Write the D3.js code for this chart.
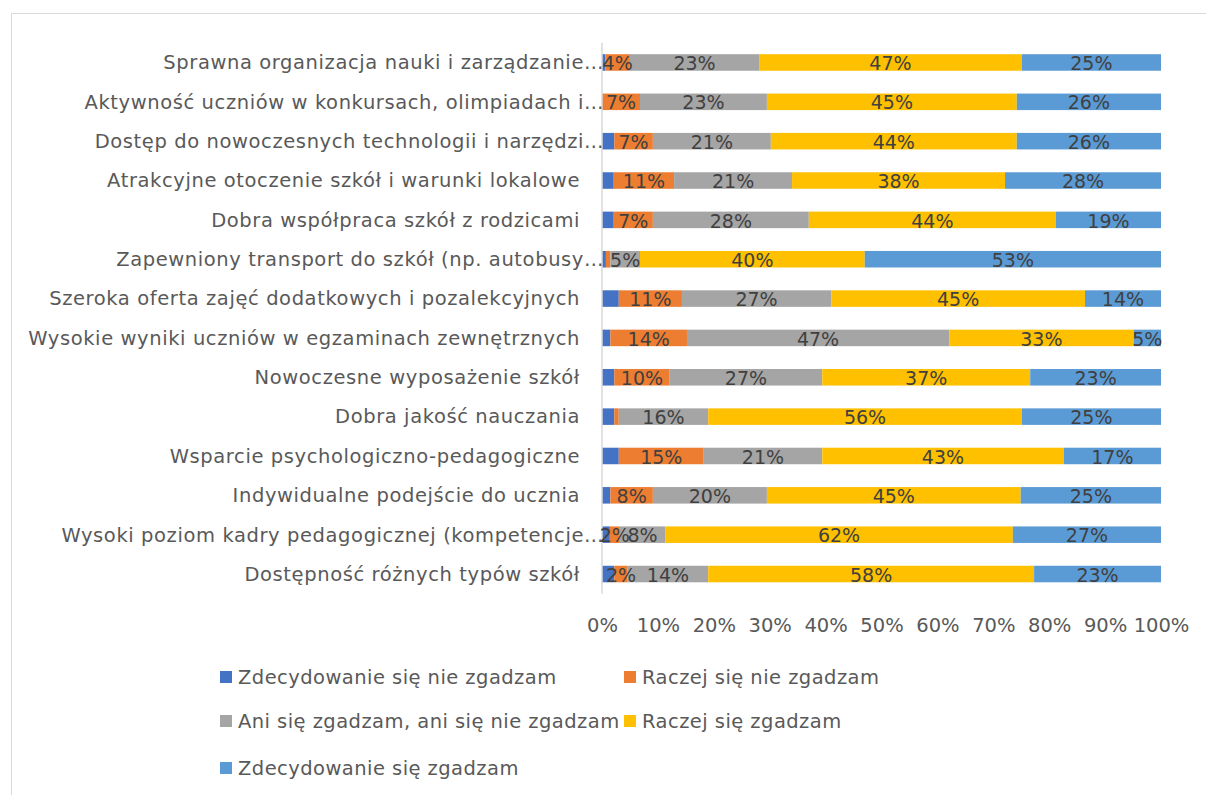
<!DOCTYPE html>
<html>
<head>
<meta charset="utf-8">
<script src="https://cdn.jsdelivr.net/npm/d3@7"></script>
<style>
  html, body { margin: 0; padding: 0; background: #ffffff; }
  svg { display: block; }
  text { font-family: "DejaVu Sans", "Liberation Sans", sans-serif; }
</style>
</head>
<body>
<svg id="chart" width="1206" height="795"></svg>
<script>
const categories = [
  "Sprawna organizacja nauki i zarządzanie…",
  "Aktywność uczniów w konkursach, olimpiadach i…",
  "Dostęp do nowoczesnych technologii i narzędzi…",
  "Atrakcyjne otoczenie szkół i warunki lokalowe",
  "Dobra współpraca szkół z rodzicami",
  "Zapewniony transport do szkół (np. autobusy…",
  "Szeroka oferta zajęć dodatkowych i pozalekcyjnych",
  "Wysokie wyniki uczniów w egzaminach zewnętrznych",
  "Nowoczesne wyposażenie szkół",
  "Dobra jakość nauczania",
  "Wsparcie psychologiczno-pedagogiczne",
  "Indywidualne podejście do ucznia",
  "Wysoki poziom kadry pedagogicznej (kompetencje…",
  "Dostępność różnych typów szkół"
];

const seriesNames = [
  "Zdecydowanie się nie zgadzam",
  "Raczej się nie zgadzam",
  "Ani się zgadzam, ani się nie zgadzam",
  "Raczej się zgadzam",
  "Zdecydowanie się zgadzam"
];

const strongDisagree = [0.6, 0, 2.2, 2.1, 2.1, 0.7, 3.0, 1.5, 2.2, 2.2, 3.0, 1.5, 1.4, 2.2];
const disagree       = [4.4, 6.8, 6.9, 10.8, 7.0, 0.8, 11.3, 13.7, 9.9, 0.8, 15.2, 7.6, 1.8, 2.4];
const neutral        = [23.1, 22.7, 21.1, 21.1, 27.9, 5.3, 26.7, 46.9, 27.3, 16.0, 21.2, 20.4, 8.1, 14.4];
const agree          = [47.0, 44.7, 44.0, 38.1, 44.2, 40.2, 45.4, 33.0, 37.2, 56.1, 43.2, 45.4, 62.2, 58.3];
const strongAgree    = [24.9, 25.8, 25.8, 27.9, 18.8, 53.0, 13.6, 4.9, 23.4, 24.9, 17.4, 25.1, 26.5, 22.7];

const tickValues = [0, 10, 20, 30, 40, 50, 60, 70, 80, 90, 100];
const tickLabels = ["0%", "10%", "20%", "30%", "40%", "50%", "60%", "70%", "80%", "90%", "100%"];

const colors = ["#4472C4", "#ED7D31", "#A5A5A5", "#FFC000", "#5B9BD5"];

const seriesValues = [strongDisagree, disagree, neutral, agree, strongAgree];

const rows = categories.map((c, i) => {
  const r = { cat: c };
  seriesNames.forEach((s, k) => { r[s] = seriesValues[k][i]; });
  return r;
});

const svg = d3.select("#chart");

// chart border
svg.append("rect")
  .attr("x", 11.5).attr("y", 13.5)
  .attr("width", 1400).attr("height", 1000)
  .attr("fill", "none").attr("stroke", "#d9d9d9").attr("stroke-width", 1);

const x = d3.scaleLinear().domain([0, 100]).range([602, 1161]);
const y = d3.scaleBand().domain(categories).range([42.8, 593.7])
  .paddingInner(0.58).paddingOuter(0.29);

const stack = d3.stack().keys(seriesNames);
const stacked = stack(rows);

const layers = svg.append("g").selectAll("g")
  .data(stacked).join("g")
  .attr("fill", (d, i) => colors[i]);

layers.selectAll("rect")
  .data(d => d)
  .join("rect")
  .attr("x", d => x(d[0]))
  .attr("y", d => y(d.data.cat))
  .attr("width", d => Math.max(0, x(d[1]) - x(d[0])))
  .attr("height", y.bandwidth());

// axis line
svg.append("line")
  .attr("x1", x(0)).attr("x2", x(0))
  .attr("y1", y.range()[0]).attr("y2", y.range()[1])
  .attr("stroke", "#d9d9d9").attr("stroke-width", 1.5);

// x tick labels
const xAxis = d3.axisBottom(x).tickValues(tickValues)
  .tickFormat((d, i) => tickLabels[i]).tickSize(0).tickPadding(0);
const gx = svg.append("g").attr("transform", "translate(0,618)").call(xAxis);
gx.select(".domain").remove();
gx.selectAll("text")
  .attr("font-family", "DejaVu Sans, sans-serif")
  .attr("font-size", 19.5)
  .attr("fill", "#595959")
  .attr("dy", "0.35em")
  .attr("y", 7);

// category labels
const catG = svg.append("g");
categories.forEach(c => {
  const cy = y(c) + y.bandwidth() / 2;
  const trunc = c.endsWith("…");
  const main = trunc ? c.slice(0, -1) : c;
  catG.append("text")
    .attr("x", trunc ? 584 : 580)
    .attr("y", cy)
    .attr("dy", "0.35em")
    .attr("text-anchor", "end")
    .attr("font-size", 19.5)
    .attr("letter-spacing", "0.6px")
    .attr("fill", "#595959")
    .text(main);
  if (trunc) {
    catG.append("text")
      .attr("x", 584)
      .attr("y", cy)
      .attr("dy", "0.35em")
      .attr("text-anchor", "start")
      .attr("font-size", 19.5)
      .attr("fill", "#595959")
      .text("…");
  }
});

// data labels
const lab = svg.append("g");
stacked.forEach((layer, k) => {
  if (k === 0) return;
  layer.forEach(d => {
    const v = d[1] - d[0];
    if (v < 1.5) return;
    lab.append("text")
      .attr("x", (x(d[0]) + x(d[1])) / 2)
      .attr("y", y(d.data.cat) + y.bandwidth() / 2 + 1)
      .attr("dy", "0.35em")
      .attr("text-anchor", "middle")
      .attr("font-size", 19)
      .attr("fill", "#404040")
      .text(Math.round(v) + "%");
  });
});

// legend
const legendPos = [
  [220, 677], [624, 677],
  [220, 721], [624, 721],
  [220, 768]
];
const leg = svg.append("g");
seriesNames.forEach((s, i) => {
  const [lx, ly] = legendPos[i];
  leg.append("rect")
    .attr("x", lx).attr("y", ly - 6)
    .attr("width", 12).attr("height", 12)
    .attr("fill", colors[i]);
  leg.append("text")
    .attr("x", lx + 18).attr("y", ly)
    .attr("dy", "0.35em")
    .attr("font-size", 19.5)
    .attr("letter-spacing", "0.45px")
    .attr("fill", "#595959")
    .text(s);
});
</script>
</body>
</html>
